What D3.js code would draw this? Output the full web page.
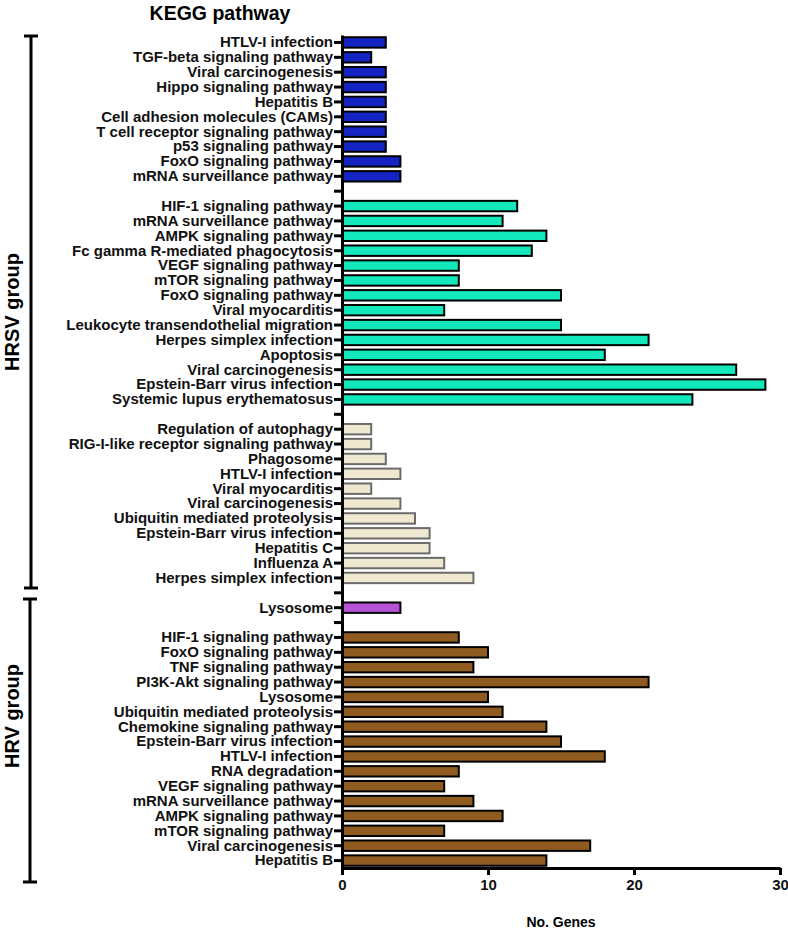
<!DOCTYPE html>
<html>
<head>
<meta charset="utf-8">
<script src="https://cdn.jsdelivr.net/npm/d3@7"></script>
<style>
  body { margin: 0; background: #fff; }
  text { font-family: "Liberation Sans", Arial, sans-serif; font-weight: bold; }
</style>
</head>
<body>
<div id="chartArea"></div>
<script>
// KEGG pathway enrichment - horizontal bars, stacked groups top to bottom

const hrsvBlueNames = ["HTLV-I infection", "TGF-beta signaling pathway", "Viral carcinogenesis",
  "Hippo signaling pathway", "Hepatitis B", "Cell adhesion molecules (CAMs)",
  "T cell receptor signaling pathway", "p53 signaling pathway", "FoxO signaling pathway",
  "mRNA surveillance pathway"];
const hrsvBlueValues = [3, 2, 3, 3, 3, 3, 3, 3, 4, 4];

const hrsvTealNames = ["HIF-1 signaling pathway", "mRNA surveillance pathway", "AMPK signaling pathway",
  "Fc gamma R-mediated phagocytosis", "VEGF signaling pathway", "mTOR signaling pathway",
  "FoxO signaling pathway", "Viral myocarditis", "Leukocyte transendothelial migration",
  "Herpes simplex infection", "Apoptosis", "Viral carcinogenesis",
  "Epstein-Barr virus infection", "Systemic lupus erythematosus"];
const hrsvTealValues = [12, 11, 14, 13, 8, 8, 15, 7, 15, 21, 18, 27, 29, 24];

const hrsvBeigeNames = ["Regulation of autophagy", "RIG-I-like receptor signaling pathway", "Phagosome",
  "HTLV-I infection", "Viral myocarditis", "Viral carcinogenesis", "Ubiquitin mediated proteolysis",
  "Epstein-Barr virus infection", "Hepatitis C", "Influenza A", "Herpes simplex infection"];
const hrsvBeigeValues = [2, 2, 3, 4, 2, 4, 5, 6, 6, 7, 9];

const hrvPurpleNames = ["Lysosome"];
const hrvPurpleValues = [4];

const hrvBrownNames = ["HIF-1 signaling pathway", "FoxO signaling pathway", "TNF signaling pathway",
  "PI3K-Akt signaling pathway", "Lysosome", "Ubiquitin mediated proteolysis",
  "Chemokine signaling pathway", "Epstein-Barr virus infection", "HTLV-I infection",
  "RNA degradation", "VEGF signaling pathway", "mRNA surveillance pathway",
  "AMPK signaling pathway", "mTOR signaling pathway", "Viral carcinogenesis", "Hepatitis B"];
const hrvBrownValues = [8, 10, 9, 21, 10, 11, 14, 15, 18, 8, 7, 9, 11, 7, 17, 14];

const xTicks = [0, 10, 20, 30];

const blocks = [
  { names: hrsvBlueNames, values: hrsvBlueValues, fill: "#1424c2", stroke: "#000" },
  { names: hrsvTealNames, values: hrsvTealValues, fill: "#12e8bb", stroke: "#000" },
  { names: hrsvBeigeNames, values: hrsvBeigeValues, fill: "#efe8d0", stroke: "#6b6b6b" },
  { names: hrvPurpleNames, values: hrvPurpleValues, fill: "#b653d6", stroke: "#000" },
  { names: hrvBrownNames, values: hrvBrownValues, fill: "#8f5b20", stroke: "#000" }
];

// build rows with an empty slot between blocks
const rows = [];
blocks.forEach((b, bi) => {
  if (bi > 0) rows.push({ id: `gap${bi}`, label: "", value: null });
  b.names.forEach((n, i) => {
    rows.push({ id: `b${bi}-${i}`, label: n, value: b.values[i], fill: b.fill, stroke: b.stroke });
  });
});
const labelById = new Map(rows.map((r) => [r.id, r.label]));

const width = 788;
const height = 932;
const margin = { top: 35, right: 8, bottom: 64, left: 342 };
const plotRight = 780;

const svg = d3.select("#chartArea").append("svg")
  .attr("width", width)
  .attr("height", height);

const x = d3.scaleLinear().domain([0, 30]).range([margin.left, plotRight]);
const y = d3.scaleBand()
  .domain(rows.map((r) => r.id))
  .range([margin.top, height - margin.bottom])
  .paddingInner(0.3)
  .paddingOuter(0.15);

// bars
svg.selectAll(".bar")
  .data(rows.filter((r) => r.value !== null))
  .join("rect")
  .attr("class", "bar")
  .attr("x", x(0))
  .attr("y", (d) => y(d.id))
  .attr("width", (d) => x(d.value) - x(0))
  .attr("height", y.bandwidth())
  .attr("fill", (d) => d.fill)
  .attr("stroke", (d) => d.stroke)
  .attr("stroke-width", 2);

// y axis
const yAxis = svg.append("g")
  .attr("transform", `translate(${margin.left}, 0)`)
  .call(d3.axisLeft(y).tickSize(8).tickSizeOuter(0).tickFormat((id) => labelById.get(id)));
yAxis.select(".domain").attr("stroke-width", 3);
yAxis.selectAll(".tick line").attr("stroke-width", 3);
yAxis.selectAll(".tick text")
  .attr("x", -9)
  .style("font-size", "15px")
  .attr("fill", "#111");

// x axis
const xAxis = svg.append("g")
  .attr("transform", `translate(0, ${height - margin.bottom})`)
  .call(d3.axisBottom(x).tickValues(xTicks).tickSize(7).tickSizeOuter(0));
xAxis.select(".domain").attr("stroke-width", 3);
xAxis.selectAll(".tick line").attr("stroke-width", 3);
xAxis.selectAll(".tick text")
  .attr("y", 11)
  .style("font-size", "15px")
  .attr("fill", "#111");

// title and axis label
svg.append("text")
  .attr("x", 220)
  .attr("y", 20)
  .attr("text-anchor", "middle")
  .style("font-size", "19.5px")
  .text("KEGG pathway");

svg.append("text")
  .attr("x", 561)
  .attr("y", 927)
  .attr("text-anchor", "middle")
  .style("font-size", "14px")
  .text("No. Genes");

// group brackets
const groups = [
  { label: "HRSV group", top: 36, bottom: 588, x: 31, labelY: 312 },
  { label: "HRV group", top: 599, bottom: 882, x: 30, labelY: 716 }
];
groups.forEach((g) => {
  const br = svg.append("g").attr("stroke", "#000").attr("stroke-width", 3);
  br.append("line").attr("x1", g.x).attr("x2", g.x).attr("y1", g.top).attr("y2", g.bottom);
  br.append("line").attr("x1", g.x - 7).attr("x2", g.x + 7).attr("y1", g.top).attr("y2", g.top);
  br.append("line").attr("x1", g.x - 7).attr("x2", g.x + 7).attr("y1", g.bottom).attr("y2", g.bottom);
  svg.append("text")
    .attr("transform", `translate(19, ${g.labelY}) rotate(-90)`)
    .attr("text-anchor", "middle")
    .style("font-size", "20px")
    .text(g.label);
});
</script>
</body>
</html>
